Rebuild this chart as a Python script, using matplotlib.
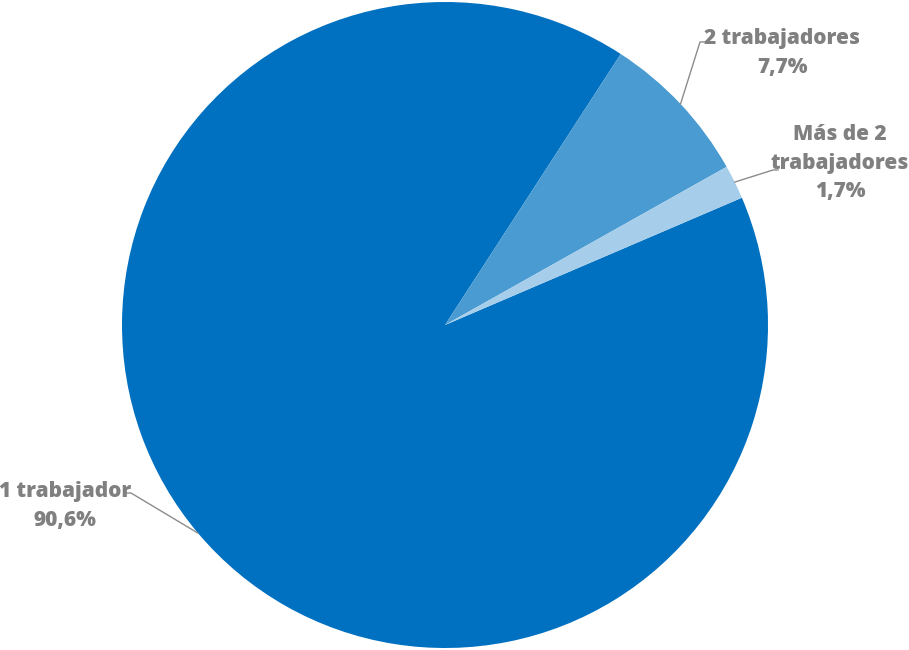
import numpy as np
import matplotlib.pyplot as plt

categories = ["1 trabajador", "2 trabajadores", "Más de 2\ntrabajadores"]
values = [90.6, 7.7, 1.7]
pct_labels = ["90,6%", "7,7%", "1,7%"]
colors = ["#0070C0", "#4A9BD1", "#A6CDEA"]

fig = plt.figure(figsize=(9.09, 6.5), dpi=100)
ax = fig.add_axes([0, 0, 1, 1])

cx, cy, R = 445, 325, 323
start = 23.2
wedges, _ = ax.pie(values, colors=colors, startangle=start, counterclock=False,
                   center=(cx, cy), radius=R, frame=True,
                   wedgeprops=dict(linewidth=0))
ax.set_xlim(0, 909)
ax.set_ylim(0, 650)
ax.set_aspect('equal')
ax.axis('off')

# label layout: (text x, text y, elbow x, elbow y, line end x)
layout = [
    (65, 144, 131, 157, 126),
    (782, 597, 700, 608, 708),
    (840, 487, 773, 480, 778),
]
gray = "#808080"
for w, cat, pct, (tx, ty, ex, ey, lx) in zip(wedges, categories, pct_labels, layout):
    mid = np.deg2rad((w.theta1 + w.theta2) / 2)
    px, py = cx + R * np.cos(mid), cy + R * np.sin(mid)
    ax.plot([px, ex, lx], [py, ey, ey], color="#8c8c8c", lw=1.0)
    ax.text(tx, ty, cat + "\n" + pct, ha='center', va='center', color=gray,
            fontsize=15, fontweight='heavy', family='Open Sans', linespacing=1.5)

fig.savefig("out.png", dpi=100)
